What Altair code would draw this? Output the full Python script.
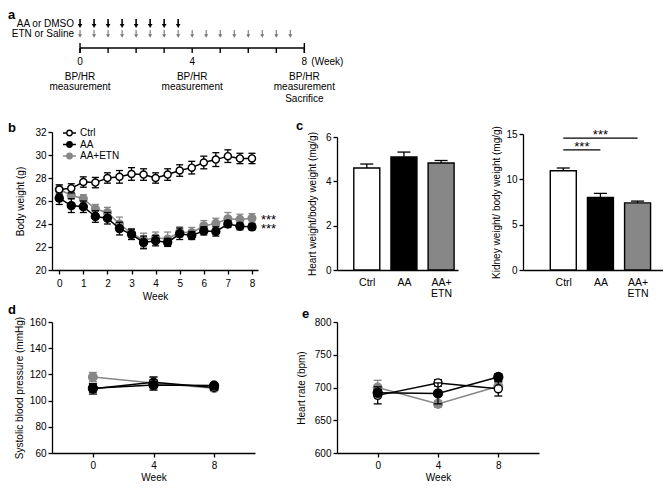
import altair as alt
import pandas as pd

FONT = "Liberation Sans"
GRAY = "#878787"
W, H = 655, 478

# ---------------- data ----------------
groups = ["Ctrl", "AA", "AA+ETN"]

# panel a (schedule)
dmso_weeks = [0, 0.5, 1, 1.5, 2, 2.5, 3, 3.5]
etn_weeks = [0, 0.5, 1, 1.5, 2, 2.5, 3, 3.5, 4, 4.5, 5, 5.5, 6, 6.5, 7, 7.5]
timeline_ticks = [0, 1, 2, 3, 4, 5, 6, 7, 8]
timeline_ends = [0, 8]
timeline_labels = [0, 4, 8]
measure_weeks = [0, 4, 8]
sacrifice_week = [8]

# panel b (body weight)
bw_weeks = [0, 0.5, 1, 1.5, 2, 2.5, 3, 3.5, 4, 4.5, 5, 5.5, 6, 6.5, 7, 7.5, 8]
bw_ctrl = [27.0, 27.1, 27.65, 27.6, 28.0, 28.1, 28.35, 28.3, 28.0, 28.3, 28.65, 28.9, 29.35, 29.6, 29.9, 29.7, 29.7]
bw_ctrl_err = [0.4, 0.4, 0.45, 0.45, 0.45, 0.55, 0.55, 0.5, 0.45, 0.5, 0.5, 0.55, 0.55, 0.6, 0.55, 0.45, 0.45]
bw_aa = [26.25, 25.6, 25.5, 24.65, 24.5, 23.6, 23.1, 22.4, 22.55, 22.4, 23.15, 23.0, 23.4, 23.35, 24.0, 23.8, 23.75]
bw_aa_err = [0.55, 0.6, 0.5, 0.5, 0.5, 0.55, 0.45, 0.55, 0.45, 0.35, 0.5, 0.35, 0.35, 0.4, 0.3, 0.3, 0.25]
bw_etn = [27.0, 26.5, 26.2, 25.3, 25.0, 24.0, 23.2, 22.6, 22.8, 22.7, 23.3, 23.25, 23.85, 24.05, 24.45, 24.4, 24.5]
bw_etn_err = [0.4, 0.3, 0.35, 0.4, 0.45, 0.6, 0.4, 0.6, 0.5, 0.6, 0.45, 0.45, 0.45, 0.45, 0.55, 0.45, 0.4]
bw_star_vals = [24.5, 23.75]

# panel c (organ weights)
bar_pos = [1, 2, 3]
heart = [4.6, 5.1, 4.83]
heart_err = [0.18, 0.22, 0.11]
kidney = [10.95, 8.0, 7.4]
kidney_err = [0.3, 0.45, 0.2]
sig_from = [1, 1]
sig_to = [2, 3]
sig_y = [13.25, 14.55]

# panel d (systolic BP) and e (heart rate)
bp_weeks = [0, 4, 8]
sbp_ctrl = [109, 114, 110]
sbp_ctrl_err = [4, 4, 2]
sbp_aa = [109.5, 112, 111.5]
sbp_aa_err = [3, 4, 2]
sbp_etn = [118, 113.5, 109.5]
sbp_etn_err = [3.5, 4.5, 2]
hr_ctrl = [688, 707, 698]
hr_ctrl_err = [13, 5, 11]
hr_aa = [692, 691, 716]
hr_aa_err = [5, 16, 5]
hr_etn = [700, 675, 702]
hr_etn_err = [11, 5, 6]

STYLE = {"Ctrl": ("black", "white"), "AA": ("black", "black"), "AA+ETN": (GRAY, GRAY)}
ONE = pd.DataFrame({"k": [0]})


def ax(orient, offset, **kw):
    d = dict(orient=orient, offset=offset,
             domainColor="black", domainWidth=1.3, tickColor="black", tickWidth=1.3, tickSize=4,
             labelColor="black", labelFont=FONT, labelFontSize=10, labelPadding=2,
             titleFont=FONT, titleFontSize=10, titleFontWeight="normal", titleColor="black",
             grid=False)
    d.update(kw)
    return alt.Axis(**d)


def letter(ch, x, y):
    return alt.Chart(ONE).mark_text(text=ch, font=FONT, fontSize=13, fontWeight="bold",
                                    align="left", baseline="middle").encode(
        x=alt.value(x), y=alt.value(y))


def series(weeks, vals, errs, grp, X, Y, size, cap):
    stroke, fill = STYLE[grp]
    df = pd.DataFrame({"week": weeks, "val": vals,
                       "lo": [v - e for v, e in zip(vals, errs)],
                       "hi": [v + e for v, e in zip(vals, errs)]})
    b = alt.Chart(df)
    return [
        b.mark_rule(color=stroke, strokeWidth=1.3).encode(x=X("week"), y=Y("lo"), y2="hi"),
        b.mark_tick(orient="horizontal", color=stroke, size=cap, thickness=1.3, opacity=1).encode(x=X("week"), y=Y("lo")),
        b.mark_tick(orient="horizontal", color=stroke, size=cap, thickness=1.3, opacity=1).encode(x=X("week"), y=Y("hi")),
        b.mark_line(color=stroke, strokeWidth=1.5).encode(x=X("week"), y=Y("val")),
        b.mark_point(shape="circle", filled=True, fill=fill, stroke=stroke, strokeWidth=1.4,
                     size=size, opacity=1).encode(x=X("week"), y=Y("val")),
    ]


# ---------------- panel a ----------------
AX = alt.Scale(domain=[-1, 9.7], range=[44, 344], nice=False, zero=False)


def ax_x(f):
    return alt.X(f + ":Q", scale=AX, axis=None)


TXT = dict(font=FONT, fontSize=10, baseline="middle")
a_layers = [
    letter("a", 0, 6.5),
    alt.Chart(pd.DataFrame({"w": dmso_weeks})).mark_rule(color="black", strokeWidth=1.6).encode(x=ax_x("w"), y=alt.value(11), y2=alt.value(18)),
    alt.Chart(pd.DataFrame({"w": dmso_weeks})).mark_point(shape="triangle-down", filled=True, color="black", size=22, opacity=1).encode(x=ax_x("w"), y=alt.value(18)),
    alt.Chart(pd.DataFrame({"w": etn_weeks})).mark_rule(color="#777777", strokeWidth=1.1).encode(x=ax_x("w"), y=alt.value(22), y2=alt.value(28)),
    alt.Chart(pd.DataFrame({"w": etn_weeks})).mark_point(shape="triangle-down", filled=True, color="#777777", size=16, opacity=1).encode(x=ax_x("w"), y=alt.value(28)),
    alt.Chart(pd.DataFrame({"w": [0], "t": ["AA or DMSO"]})).mark_text(align="right", dx=-6, **TXT).encode(x=ax_x("w"), y=alt.value(15.5), text="t:N"),
    alt.Chart(pd.DataFrame({"w": [0], "t": ["ETN or Saline"]})).mark_text(align="right", dx=-6, **TXT).encode(x=ax_x("w"), y=alt.value(25.5), text="t:N"),
    alt.Chart(pd.DataFrame({"s": [timeline_ends[0]], "e": [timeline_ends[1]]})).mark_rule(color="black", strokeWidth=1.5).encode(x=ax_x("s"), x2="e:Q", y=alt.value(40)),
    alt.Chart(pd.DataFrame({"w": timeline_ticks})).mark_rule(color="black", strokeWidth=1.4).encode(x=ax_x("w"), y=alt.value(40), y2=alt.value(45)),
    alt.Chart(pd.DataFrame({"w": timeline_ends})).mark_rule(color="black", strokeWidth=1.4).encode(x=ax_x("w"), y=alt.value(35), y2=alt.value(45)),
    alt.Chart(pd.DataFrame({"w": timeline_labels})).mark_text(**TXT).encode(x=ax_x("w"), y=alt.value(54), text="w:Q"),
    alt.Chart(pd.DataFrame({"w": [8], "t": ["(Week)"]})).mark_text(align="left", dx=7, **TXT).encode(x=ax_x("w"), y=alt.value(54), text="t:N"),
    alt.Chart(pd.DataFrame({"w": measure_weeks, "t": ["BP/HR"] * 3})).mark_text(**TXT).encode(x=ax_x("w"), y=alt.value(68.5), text="t:N"),
    alt.Chart(pd.DataFrame({"w": measure_weeks, "t": ["measurement"] * 3})).mark_text(**TXT).encode(x=ax_x("w"), y=alt.value(78.5), text="t:N"),
    alt.Chart(pd.DataFrame({"w": sacrifice_week, "t": ["Sacrifice"]})).mark_text(**TXT).encode(x=ax_x("w"), y=alt.value(91), text="t:N"),
]
A = alt.layer(*a_layers)

# ---------------- panel b ----------------
B_BOTTOM = 262
BXS = alt.Scale(domain=[-0.3, 8.25], range=[44, 250], nice=False, zero=False)
BXA = ax("bottom", B_BOTTOM - H, values=timeline_ticks, title="Week", labelPadding=4, titlePadding=3)
BYS = alt.Scale(domain=[20, 32], range=[B_BOTTOM, 124], nice=False, zero=False)
BYA = ax("left", -44, values=[20, 22, 24, 26, 28, 30, 32], title="Body weight (g)", titlePadding=9)


def bX(f):
    return alt.X(f + ":Q", scale=BXS, axis=BXA)


def bY(f):
    return alt.Y(f + ":Q", scale=BYS, axis=BYA)


b_layers = []
b_layers += series(bw_weeks, bw_etn, bw_etn_err, "AA+ETN", bX, bY, 60, 7)
b_layers += series(bw_weeks, bw_aa, bw_aa_err, "AA", bX, bY, 64, 7)
b_layers += series(bw_weeks, bw_ctrl, bw_ctrl_err, "Ctrl", bX, bY, 50, 7)
b_layers.append(
    alt.Chart(pd.DataFrame({"week": [8, 8], "val": bw_star_vals, "t": ["***", "***"]})).mark_text(
        font=FONT, fontSize=13, align="left", baseline="middle", dx=9, dy=2).encode(x=bX("week"), y=bY("val"), text="t:N"))
for i, g in enumerate(groups):
    stroke, fill = STYLE[g]
    ly = 125 + i * 11.5
    b_layers += [
        alt.Chart(ONE).mark_rule(color=stroke, strokeWidth=1.5).encode(x=alt.value(55), x2=alt.value(68), y=alt.value(ly)),
        alt.Chart(ONE).mark_point(shape="circle", filled=True, fill=fill, stroke=stroke, strokeWidth=1.3, size=30, opacity=1).encode(x=alt.value(61.5), y=alt.value(ly)),
        alt.Chart(ONE).mark_text(text=g, font=FONT, fontSize=10, align="left", baseline="middle").encode(x=alt.value(72), y=alt.value(ly)),
    ]
b_layers.append(letter("b", 0, 120))
B = alt.layer(*b_layers)

# ---------------- panel c ----------------
LABEL_EXPR = ("datum.value == 1 ? '%s' : datum.value == 2 ? '%s' : ['AA+', 'ETN']" % (groups[0], groups[1]))
FILL = alt.Scale(domain=groups, range=["white", "black", GRAY])


def bar_panel(vals, errs, xdom, xrange, ydom, ytop, yvals, ytitle, tpad, cap):
    XS = alt.Scale(domain=xdom, range=xrange, nice=False, zero=False)
    XA = ax("bottom", B_BOTTOM - H, values=bar_pos, ticks=False, labelExpr=LABEL_EXPR, title=None,
            labelBaseline="middle", labelPadding=12, labelFontSize=10.5, labelLineHeight=11)
    YS = alt.Scale(domain=ydom, range=[B_BOTTOM, ytop], nice=False, zero=False)
    YA = ax("left", -xrange[0], values=yvals, title=ytitle, titlePadding=tpad)
    df = pd.DataFrame({"pos": bar_pos, "grp": groups, "val": vals,
                       "hi": [v + e for v, e in zip(vals, errs)]})
    c = alt.Chart(df)
    X = alt.X("pos:Q", scale=XS, axis=XA)
    layers = [
        c.mark_rule(color="black", strokeWidth=1.3).encode(x=X, y=alt.Y("val:Q", scale=YS, axis=YA), y2="hi"),
        c.mark_tick(orient="horizontal", color="black", size=cap, thickness=1.3, opacity=1).encode(x=X, y=alt.Y("hi:Q", scale=YS, axis=YA)),
        c.mark_bar(size=26, stroke="black", strokeWidth=1.4).encode(
            x=X, y=alt.Y("val:Q", scale=YS, axis=YA),
            fill=alt.Fill("grp:N", scale=FILL, legend=None)),
    ]
    return layers, XS, XA, YS, YA


h_layers, _, _, _, _ = bar_panel(heart, heart_err, [0.333, 3.32], [329, 450], [0, 6], 129, [0, 2, 4, 6],
                                 "Heart weight/body weight (mg/g)", 8, 13)
h_layers.append(letter("c", 288, 118))
HC = alt.layer(*h_layers)

k_layers, KXS, KXA, KYS, KYA = bar_panel(kidney, kidney_err, [0.05, 3.55], [515, 655], [0, 15], 126,
                                         [0, 5, 10, 15], "Kidney weight/ body weight (mg/g)", 4, 13)
df_sig = pd.DataFrame({"x1": sig_from, "x2": sig_to, "y": sig_y,
                       "xm": [(a + b) / 2 for a, b in zip(sig_from, sig_to)], "t": ["***", "***"]})
k_layers += [
    alt.Chart(df_sig).mark_rule(color="black", strokeWidth=1.3).encode(
        x=alt.X("x1:Q", scale=KXS, axis=KXA), x2="x2:Q", y=alt.Y("y:Q", scale=KYS, axis=KYA)),
    alt.Chart(df_sig).mark_text(font=FONT, fontSize=13, baseline="middle", dy=-3).encode(
        x=alt.X("xm:Q", scale=KXS, axis=KXA), y=alt.Y("y:Q", scale=KYS, axis=KYA), text="t:N"),
]
KC = alt.layer(*k_layers)

# ---------------- panels d, e ----------------
D_BOTTOM, D_TOP = 445, 314


def line_panel(d_ctrl, e_ctrl, d_aa, e_aa, d_etn, e_etn, ydom, yvals, ytitle, tpad, xrange, ltr, lx, ly):
    XS = alt.Scale(domain=[-2.7, 10.7], range=xrange, nice=False, zero=False)
    XA = ax("bottom", D_BOTTOM - H, values=bp_weeks, title="Week", labelPadding=3, titlePadding=2)
    YS = alt.Scale(domain=ydom, range=[D_BOTTOM, D_TOP], nice=False, zero=False)
    YA = ax("left", -xrange[0], values=yvals, title=ytitle, titlePadding=tpad)

    def X(f):
        return alt.X(f + ":Q", scale=XS, axis=XA)

    def Y(f):
        return alt.Y(f + ":Q", scale=YS, axis=YA)

    layers = []
    layers += series(bp_weeks, d_etn, e_etn, "AA+ETN", X, Y, 75, 8)
    layers += series(bp_weeks, d_ctrl, e_ctrl, "Ctrl", X, Y, 64, 8)
    layers += series(bp_weeks, d_aa, e_aa, "AA", X, Y, 80, 8)
    layers.append(letter(ltr, lx, ly))
    return alt.layer(*layers)


D = line_panel(sbp_ctrl, sbp_ctrl_err, sbp_aa, sbp_aa_err, sbp_etn, sbp_etn_err, [60, 160],
               [60, 80, 100, 120, 140, 160], "Systolic blood pressure  (mmHg)", 5, [44, 247], "d", 0, 302)
E = line_panel(hr_ctrl, hr_ctrl_err, hr_aa, hr_aa_err, hr_etn, hr_etn_err, [600, 800],
               [600, 650, 700, 750, 800], "Heart rate (bpm)", 8, [329, 531], "e", 294, 306)

chart = (
    alt.layer(A, B, HC, KC, D, E)
    .resolve_scale(x="independent", y="independent", fill="shared")
    .properties(width=W, height=H, padding=0, background="white")
    .configure(font=FONT)
    .configure_view(stroke="transparent", strokeWidth=0)
)

chart.save("out.html", embed_options={"renderer": "svg", "actions": False})
